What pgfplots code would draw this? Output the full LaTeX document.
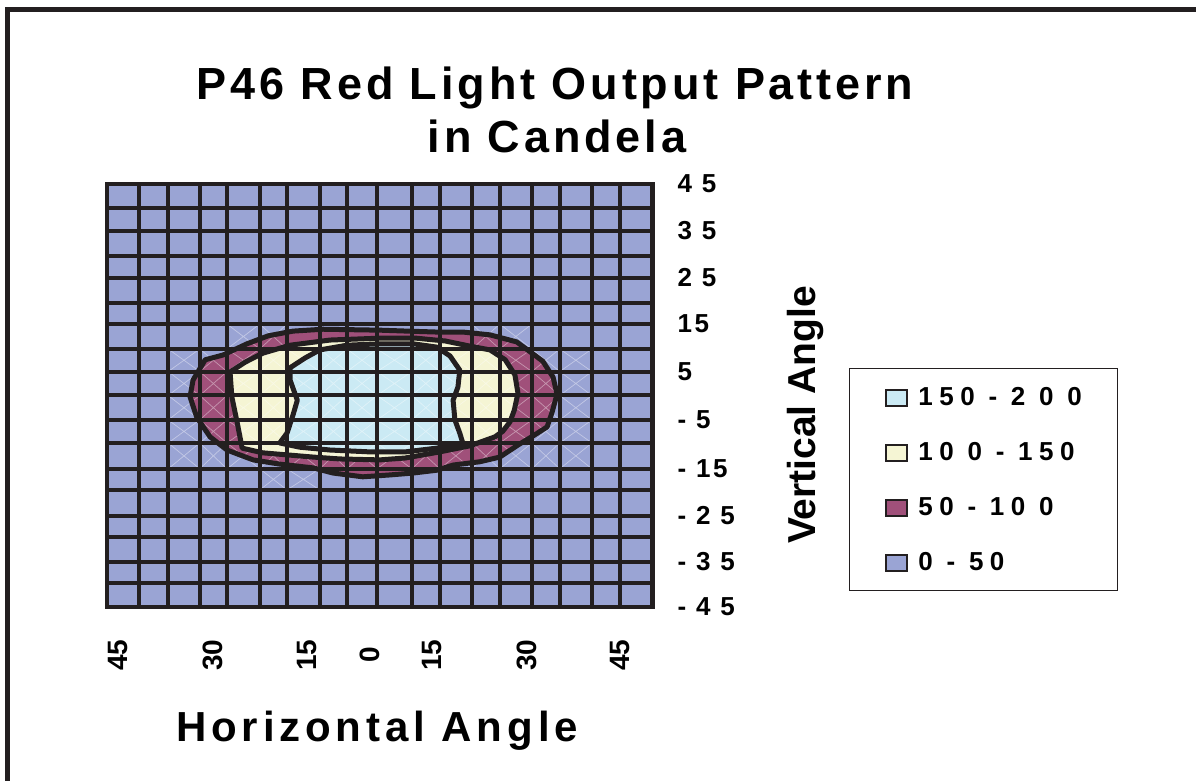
\documentclass[border=0pt]{standalone}
\usepackage{fontspec}
\setmainfont{Liberation Sans}
\usepackage{pgfplots}
\usepackage{pgfplotstable}
\pgfplotsset{compat=1.18}
\definecolor{cA}{RGB}{154,164,212}
\definecolor{cB}{RGB}{160,80,122}
\definecolor{cC}{RGB}{245,245,212}
\definecolor{cD}{RGB}{203,234,244}
\definecolor{ink}{RGB}{35,31,32}
\newcommand{\fs}[1]{\fontsize{#1}{#1}\selectfont\bfseries}
% contour boundaries: horizontal angle (x), vertical angle (y), degrees
\pgfplotstableread{
x y
-31.3 -0.3
-30.8 3.3
-28.8 7.6
-25.9 8.6
-21.9 11.0
-18.4 12.7
-14.3 13.7
-9.4 14.1
0.0 13.9
4.5 13.7
9.4 13.5
13.7 13.5
18.2 12.9
22.6 11.4
24.8 9.3
26.9 7.3
28.6 3.9
29.25 0.3
28.4 -3.7
27.6 -6.7
25.3 -8.6
23.1 -10.3
19.8 -13.1
16.5 -14.1
12.1 -14.8
9.4 -15.9
5.5 -16.5
1.7 -16.9
-2.8 -17.3
-7.7 -16.5
-11.0 -15.4
-16.5 -14.6
-20.9 -13.7
-25.2 -11.6
-28.0 -8.8
-30.2 -4.6
}\levelfifty
\pgfplotstableread{
x y
-24.7 5.0
-22.2 7.1
-19.3 9.0
-14.8 10.7
-8.2 11.8
0.0 12.2
6.0 12.2
10.8 11.6
14.9 10.5
18.2 9.7
20.7 7.6
22.3 4.4
22.8 0.5
22.2 -3.1
21.5 -5.6
20.3 -7.6
19.0 -8.8
14.9 -10.7
9.9 -12.0
4.2 -13.3
0.0 -13.7
-6.6 -13.5
-11.0 -13.1
-19.3 -12.2
-22.7 -11.2
-23.5 -5.9
-24.4 -0.3
}\levelhundred
\pgfplotstableread{
x y
-14.8 5.9
-12.3 8.0
-9.9 9.7
-5.4 10.7
0.0 11.0
5.5 11.0
9.4 10.3
11.6 8.4
13.2 5.4
12.9 1.8
12.1 -1.0
12.4 -5.2
13.2 -8.0
13.7 -10.1
9.4 -11.2
4.2 -12.0
-1.6 -12.0
-8.2 -11.6
-13.2 -11.0
-16.5 -10.1
-15.3 -8.0
-14.3 -4.1
-13.6 -1.0
-14.8 3.3
}\levelonefifty
\def\gx{{-45,-39.7,-34.9,-29.7,-25.2,-19.8,-15.3,-9.9,-5.4,-0.45,5.3,9.9,15.2,19.8,25.1,29.7,35.0,39.6,45}}
\def\gy{{45,39.9,35.0,29.7,25.0,19.7,15.2,9.9,5.1,0.0,-5.2,-10.1,-15.6,-20.1,-25.6,-30.1,-35.4,-39.9,-45}}
\tikzset{diag/.style={white, opacity=0.4, line width=0.7pt}}
\newcommand{\celldiag}[2]{%
  \pgfmathsetmacro\xa{\gx[#1]}\pgfmathsetmacro\xb{\gx[#1+1]}%
  \pgfmathsetmacro\ya{\gy[#2]}\pgfmathsetmacro\yb{\gy[#2+1]}%
  \edef\tmp{\noexpand\draw[diag] (axis cs:\xa,\ya) -- (axis cs:\xb,\yb) (axis cs:\xa,\yb) -- (axis cs:\xb,\ya);}\tmp}
\begin{document}
\begin{tikzpicture}[x=1pt,y=1pt]
\path[use as bounding box] (0,0) rectangle (1196,781);
\draw[ink, line width=5pt] (7.5,-20) -- (7.5,771) -- (1220,771);
\node[anchor=base, font=\fs{45}\addfontfeatures{LetterSpace=8.6}] at (555,681) {P46 Red Light Output Pattern};
\node[anchor=base, font=\fs{45}\addfontfeatures{LetterSpace=8.6}] at (557,628) {in Candela};
\node[rotate=90, font=\fs{39}] at (805,366) {Vertical Angle};
\node[anchor=base, font=\fs{42}\addfontfeatures{LetterSpace=11.6}] at (377,39) {Horizontal Angle};
\begin{axis}[
  at={(107pt,174pt)}, anchor=south west,
  scale only axis, width=545.5pt, height=423pt,
  xmin=-45, xmax=45, ymin=-45, ymax=45,
  axis on top,
  axis background/.style={fill=cA},
  axis line style={ink, line width=4.5pt},
  major tick length=0pt, minor tick length=0pt,
  xtick={-43.2,-27.5,-12.0,-1.6,8.6,24.3,39.6},
  xticklabels={45,30,15,0,15,30,45},
  xticklabel style={rotate=90, anchor=center, inner sep=0pt, font=\fs{28}},
  xticklabel shift=48pt,
  ytick={45,35,25,15.2,5.1,-5.2,-15.6,-25.6,-35.4,-45},
  yticklabels={4 5,3 5,2 5,15,5,- 5,- 15,- 2 5,- 3 5,- 4 5},
  yticklabel pos=right,
  yticklabel style={anchor=west, inner sep=0pt, font=\fs{26}\addfontfeatures{LetterSpace=10}},
  yticklabel shift=25pt,
  minor xtick={-39.7,-34.9,-29.7,-25.2,-19.8,-15.3,-9.9,-5.4,-0.45,5.3,9.9,15.2,19.8,25.1,29.7,35.0,39.6},
  minor ytick={39.9,35.0,29.7,25.0,19.7,15.2,9.9,5.1,0.0,-5.2,-10.1,-15.6,-20.1,-25.6,-30.1,-35.4,-39.9},
  xminorgrids=true, yminorgrids=true,
  minor grid style={ink, line width=4pt},
  legend cell align=left,
  legend style={at={(1.360,0.565)}, anchor=north west, draw=ink, line width=1.2pt, fill=white,
    font=\fs{26}\addfontfeatures{LetterSpace=25}, inner xsep=36pt, inner ysep=19pt,
    row sep=36pt, column sep=10pt,
    nodes={inner sep=0pt, text height=18pt, text depth=0pt}},
  legend image code/.code={\draw[#1, draw=ink, line width=2pt] (0pt,-9pt) rectangle (21pt,7pt);},
]
\addlegendimage{fill=cD}\addlegendentry{150 - 2 0 0}
\addlegendimage{fill=cC}\addlegendentry{10 0 - 150}
\addlegendimage{fill=cB}\addlegendentry{50 - 10 0}
\addlegendimage{fill=cA}\addlegendentry{0 - 50}
% filled bands
\addplot[fill=cB, draw=none, forget plot] table {\levelfifty} --cycle;
\addplot[fill=cC, draw=none, forget plot] table {\levelhundred} --cycle;
\addplot[fill=cD, draw=none, forget plot] table {\levelonefifty} --cycle;
% faint triangulation seams of the surface cells
\foreach \c in {4,5,12,13}{\celldiag{\c}{6}}
\foreach \c in {5,6}{\celldiag{\c}{12}}
\foreach \r in {7,...,11}{\foreach \c in {2,...,15}{\celldiag{\c}{\r}}}
% contour lines
\addplot[draw=ink, line width=5pt, line join=round, forget plot] table {\levelfifty} --cycle;
\addplot[draw=ink, line width=5pt, line join=round, forget plot] table {\levelhundred} --cycle;
\addplot[draw=ink, line width=5pt, line join=round, forget plot] table {\levelonefifty} --cycle;
\end{axis}
\end{tikzpicture}
\end{document}
